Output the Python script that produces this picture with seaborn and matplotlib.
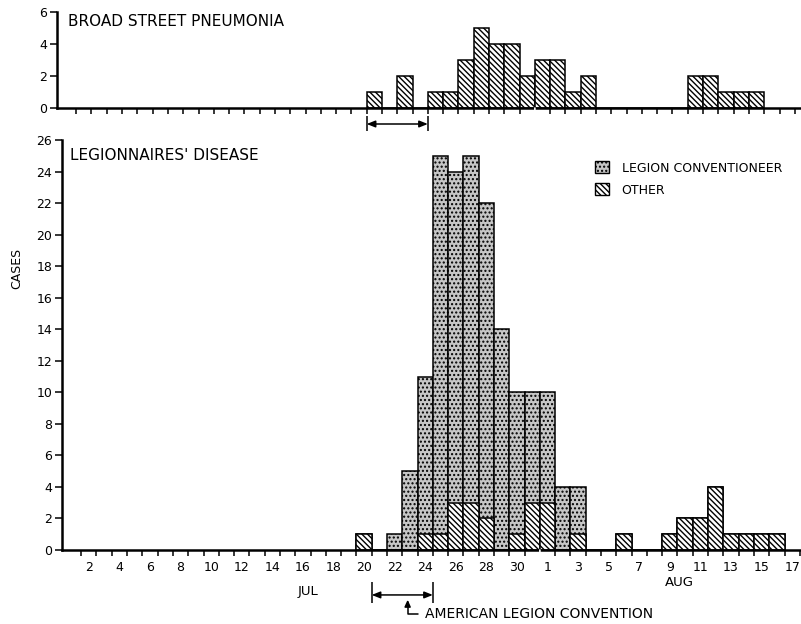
import matplotlib
matplotlib.use('Agg')
import matplotlib.pyplot as plt
from matplotlib.patches import Patch
import numpy as np
import pandas as pd
import seaborn as sns

# 1. data (cases by day of onset)
bs_dates = ['Jul 21', 'Jul 23', 'Jul 25', 'Jul 26', 'Jul 27', 'Jul 28', 'Jul 29', 'Jul 30', 'Jul 31',
            'Aug 1', 'Aug 2', 'Aug 3', 'Aug 4', 'Aug 11', 'Aug 12', 'Aug 13', 'Aug 14', 'Aug 15']
bs_cases = [1, 2, 1, 1, 3, 5, 4, 4, 2, 3, 3, 1, 2, 2, 2, 1, 1, 1]

lc_dates = ['Jul 22', 'Jul 23', 'Jul 24', 'Jul 25', 'Jul 26', 'Jul 27', 'Jul 28', 'Jul 29', 'Jul 30',
            'Jul 31', 'Aug 1', 'Aug 2', 'Aug 3']
lc_cases = [1, 5, 10, 24, 21, 22, 20, 14, 9, 7, 7, 4, 3]

ot_dates = ['Jul 20', 'Jul 24', 'Jul 25', 'Jul 26', 'Jul 27', 'Jul 28', 'Jul 30', 'Jul 31', 'Aug 1',
            'Aug 3', 'Aug 6', 'Aug 9', 'Aug 10', 'Aug 11', 'Aug 12', 'Aug 13', 'Aug 14', 'Aug 15', 'Aug 16']
ot_cases = [1, 1, 1, 3, 3, 2, 1, 3, 3, 1, 1, 1, 2, 2, 4, 1, 1, 1, 1]

conv_start, conv_end = 'Jul 21', 'Jul 24'
jul_ticks = list(range(2, 31, 2))
aug_ticks = list(range(1, 18, 2))


def day_num(s):
    m, d = s.split()
    return int(d) + (31 if m == 'Aug' else 0)


bs = pd.DataFrame({'day': [day_num(d) for d in bs_dates], 'n': bs_cases})
lc = pd.DataFrame({'day': [day_num(d) for d in lc_dates], 'n': lc_cases})
ot = pd.DataFrame({'day': [day_num(d) for d in ot_dates], 'n': ot_cases})
total = pd.concat([lc, ot]).groupby('day', as_index=False)['n'].sum()

# 2. style
sns.set_style('ticks')
plt.rcParams['font.family'] = ['DejaVu Sans']
plt.rcParams['hatch.linewidth'] = 1.0
for k in ('text.color', 'axes.labelcolor', 'xtick.color', 'ytick.color', 'axes.edgecolor'):
    plt.rcParams[k] = 'black'

STIP = '#c6c6c6'
HATCH_OT = '\\' * 6
W, H = 801, 624
fig = plt.figure(figsize=(W / 100, H / 100), dpi=100)


def px_axes(left, top, right, bottom):
    return fig.add_axes([left / W, 1 - bottom / H, (right - left) / W, (bottom - top) / H])


ax_top = px_axes(57, 12, 801, 108)
ax_bot = px_axes(62, 140, 801, 550)
scale = 15.29  # px per day
x0 = 0.245

# [top] Broad Street pneumonia
sns.histplot(x=bs['day'], weights=bs['n'], discrete=True, ax=ax_top,
             facecolor='white', edgecolor='black', hatch=HATCH_OT, linewidth=1.1, alpha=1)
ax_top.set_ylim(0, 6)
ax_top.set_yticks([0, 2, 4, 6])
ax_top.set_xlim(x0, x0 + 744 / scale)

# [bottom] Legionnaires' disease: total stippled, other hatched over it
sns.histplot(x=total['day'], weights=total['n'], discrete=True, ax=ax_bot,
             facecolor=STIP, edgecolor='black', hatch='....', linewidth=1.1, alpha=1)
sns.histplot(x=ot['day'], weights=ot['n'], discrete=True, ax=ax_bot,
             facecolor='white', edgecolor='black', hatch=HATCH_OT, linewidth=1.1, alpha=1)
ax_bot.set_ylim(0, 26)
ax_bot.set_yticks(range(0, 27, 2))
ax_bot.set_xlim(x0, x0 + 739 / scale)

bounds = [d + 0.5 for d in range(1, 49) if d != 31]
for ax in (ax_top, ax_bot):
    sns.despine(ax=ax)
    ax.spines['left'].set_linewidth(1.8)
    ax.spines['bottom'].set_linewidth(1.8)
    ax.set_xlabel('')
    ax.set_ylabel('')
    ax.set_xticks(bounds, minor=True)
    ax.tick_params(axis='x', which='minor', length=4, width=1.1, direction='out')
    ax.tick_params(axis='y', which='major', length=5, width=1.1, labelsize=9, pad=2)
    ax.tick_params(axis='x', which='major', length=0, labelsize=9, pad=8)

ax_top.set_xticks([])
ax_top.set_xticks(bounds, minor=True)
ax_bot.set_xticks(jul_ticks + [31 + d for d in aug_ticks])
ax_bot.set_xticklabels([str(d) for d in jul_ticks] + [str(d) for d in aug_ticks])

# month separator (longer tick)
for ax, ln in ((ax_top, 12), (ax_bot, 14)):
    ax.annotate('', xy=(31.5, 0), xycoords=('data', 'axes fraction'),
                xytext=(0, -ln), textcoords='offset points',
                arrowprops=dict(arrowstyle='-', lw=1.2, shrinkA=0, shrinkB=0),
                annotation_clip=False)

# convention brackets
cs, ce = day_num(conv_start) - 0.5, day_num(conv_end) + 0.5
for ax, yb, y0b, y1b in ((ax_top, -1.0, -0.5, -1.45), (ax_bot, -2.85, -2.03, -3.36)):
    ax.annotate('', xy=(cs, yb), xytext=(ce, yb),
                arrowprops=dict(arrowstyle='<|-|>,head_length=0.5,head_width=0.2', lw=1.1,
                                color='black', shrinkA=0, shrinkB=0),
                annotation_clip=False)
    ax.vlines([cs, ce], y0b, y1b, color='black', lw=1.1, clip_on=False)

ax_bot.annotate('AMERICAN LEGION CONVENTION', xy=((cs + ce) / 2 + 0.35, -3.15),
                xytext=(24.0, -4.06), ha='left', va='center', fontsize=10,
                arrowprops=dict(arrowstyle='-|>,head_length=0.4,head_width=0.18', lw=1.1,
                                color='black', relpos=(0, 0.5), shrinkA=3, shrinkB=0,
                                connectionstyle='angle,angleA=0,angleB=90,rad=0'),
                annotation_clip=False)

# legend
handles = [Patch(facecolor=STIP, edgecolor='black', hatch='....', label='LEGION CONVENTIONEER'),
           Patch(facecolor='white', edgecolor='black', hatch=HATCH_OT, label='OTHER')]
ax_bot.legend(handles=handles, loc='upper left', bbox_to_anchor=(584 / W, 1 - 150 / H),
              bbox_transform=fig.transFigure, frameon=False, fontsize=9,
              handlelength=1.1, handleheight=1.1, handletextpad=1.0, labelspacing=0.7)

# texts
fig.text(68 / W, 1 - 21 / H, 'BROAD STREET PNEUMONIA', fontsize=11, ha='left', va='center')
fig.text(70 / W, 1 - 155 / H, "LEGIONNAIRES' DISEASE", fontsize=11, ha='left', va='center')
fig.text(17 / W, 1 - 268 / H, 'CASES', fontsize=9, rotation=90, ha='center', va='center')
fig.text(308 / W, 1 - 592 / H, 'JUL', fontsize=9.5, ha='center', va='center')
fig.text(679 / W, 1 - 583 / H, 'AUG', fontsize=9.5, ha='center', va='center')

plt.savefig('out.png', dpi=100)
